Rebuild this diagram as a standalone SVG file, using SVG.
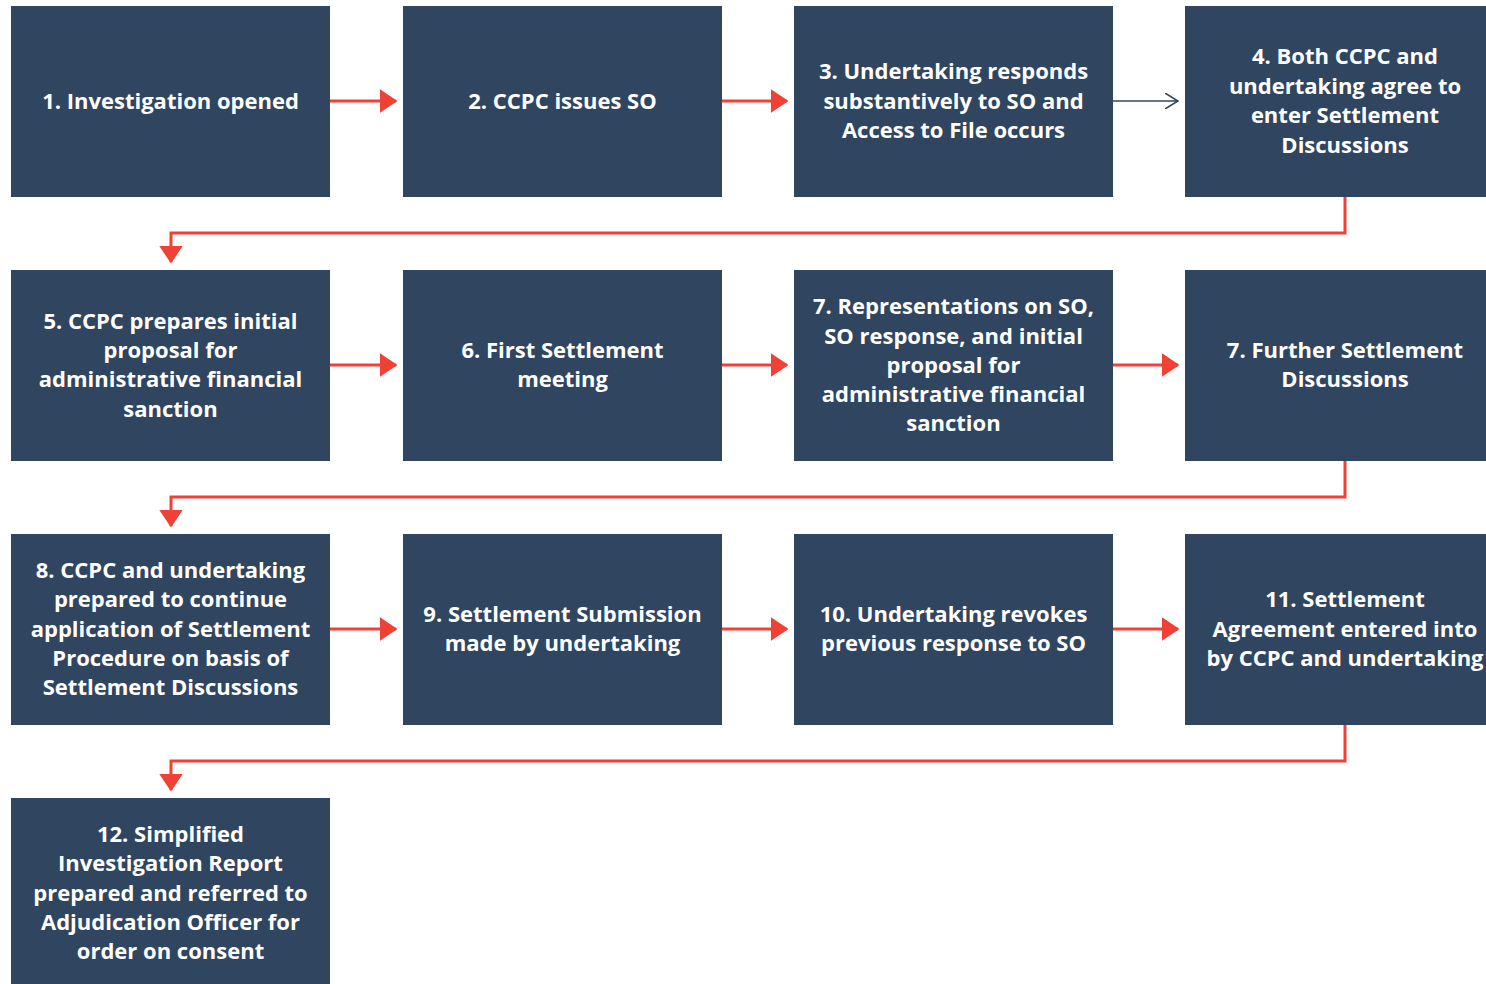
<svg xmlns="http://www.w3.org/2000/svg" width="1486" height="984" viewBox="0 0 1486 984">
<style>
.b{fill:#304560}
.t{font-family:"Open Sans","Liberation Sans",sans-serif;font-weight:700;font-size:22px;fill:#ffffff;text-anchor:middle}
.r{stroke:#ef4136;stroke-width:3;fill:none}
.n{stroke:#304560;stroke-width:1.5;fill:none}
</style>
<defs>
<marker id="ah" markerWidth="6" markerHeight="8" refX="5.5" refY="4" orient="auto" markerUnits="strokeWidth"><path d="M0,0 L6,4 L0,8 Z" fill="#ef4136"/></marker>
<marker id="oh" markerWidth="14" markerHeight="16" refX="13" refY="8" orient="auto" markerUnits="userSpaceOnUse"><path d="M0,0 L13,8 L0,16" fill="none" stroke="#304560" stroke-width="1.5"/></marker>
</defs>
<g id="connectors">
<line class="r" x1="330" y1="101" x2="396" y2="101" marker-end="url(#ah)"/>
<line class="r" x1="722" y1="101" x2="787" y2="101" marker-end="url(#ah)"/>
<line class="n" x1="1113" y1="101" x2="1178" y2="101" marker-end="url(#oh)"/>
<polyline class="r" points="1345,197 1345,233 171,233 171,262" marker-end="url(#ah)"/>
<line class="r" x1="330" y1="365" x2="396" y2="365" marker-end="url(#ah)"/>
<line class="r" x1="722" y1="365" x2="787" y2="365" marker-end="url(#ah)"/>
<line class="r" x1="1113" y1="365" x2="1178" y2="365" marker-end="url(#ah)"/>
<polyline class="r" points="1345,461 1345,497 171,497 171,526" marker-end="url(#ah)"/>
<line class="r" x1="330" y1="629" x2="396" y2="629" marker-end="url(#ah)"/>
<line class="r" x1="722" y1="629" x2="787" y2="629" marker-end="url(#ah)"/>
<line class="r" x1="1113" y1="629" x2="1178" y2="629" marker-end="url(#ah)"/>
<polyline class="r" points="1345,725 1345,761 171,761 171,790" marker-end="url(#ah)"/>
</g>
<g id="n1"><rect class="b" x="11" y="6" width="319" height="191"/><text class="t" x="170.5" y="109">1. Investigation opened</text></g>
<g id="n2"><rect class="b" x="403" y="6" width="319" height="191"/><text class="t" x="562.5" y="109">2. CCPC issues SO</text></g>
<g id="n3"><rect class="b" x="794" y="6" width="319" height="191"/><text class="t" x="953.5" y="79">3. Undertaking responds</text><text class="t" x="953.5" y="109">substantively to SO and</text><text class="t" x="953.5" y="138">Access to File occurs</text></g>
<g id="n4"><rect class="b" x="1185" y="6" width="301" height="191"/><text class="t" x="1345" y="64">4. Both CCPC and</text><text class="t" x="1345" y="94">undertaking agree to</text><text class="t" x="1345" y="123">enter Settlement</text><text class="t" x="1345" y="153">Discussions</text></g>
<g id="n5"><rect class="b" x="11" y="270" width="319" height="191"/><text class="t" x="170.5" y="329">5. CCPC prepares initial</text><text class="t" x="170.5" y="358">proposal for</text><text class="t" x="170.5" y="387">administrative financial</text><text class="t" x="170.5" y="417">sanction</text></g>
<g id="n6"><rect class="b" x="403" y="270" width="319" height="191"/><text class="t" x="562.5" y="358">6. First Settlement</text><text class="t" x="562.5" y="387">meeting</text></g>
<g id="n7a"><rect class="b" x="794" y="270" width="319" height="191"/><text class="t" x="953.5" y="314">7. Representations on SO,</text><text class="t" x="953.5" y="344">SO response, and initial</text><text class="t" x="953.5" y="373">proposal for</text><text class="t" x="953.5" y="402">administrative financial</text><text class="t" x="953.5" y="431">sanction</text></g>
<g id="n7b"><rect class="b" x="1185" y="270" width="301" height="191"/><text class="t" x="1345" y="358">7. Further Settlement</text><text class="t" x="1345" y="387">Discussions</text></g>
<g id="n8"><rect class="b" x="11" y="534" width="319" height="191"/><text class="t" x="170.5" y="578">8. CCPC and undertaking</text><text class="t" x="170.5" y="607">prepared to continue</text><text class="t" x="170.5" y="637">application of Settlement</text><text class="t" x="170.5" y="666">Procedure on basis of</text><text class="t" x="170.5" y="695">Settlement Discussions</text></g>
<g id="n9"><rect class="b" x="403" y="534" width="319" height="191"/><text class="t" x="562.5" y="622">9. Settlement Submission</text><text class="t" x="562.5" y="651">made by undertaking</text></g>
<g id="n10"><rect class="b" x="794" y="534" width="319" height="191"/><text class="t" x="953.5" y="622">10. Undertaking revokes</text><text class="t" x="953.5" y="651">previous response to SO</text></g>
<g id="n11"><rect class="b" x="1185" y="534" width="301" height="191"/><text class="t" x="1345" y="607">11. Settlement</text><text class="t" x="1345" y="637">Agreement entered into</text><text class="t" x="1345" y="666">by CCPC and undertaking</text></g>
<g id="n12"><rect class="b" x="11" y="798" width="319" height="186"/><text class="t" x="170.5" y="842">12. Simplified</text><text class="t" x="170.5" y="871">Investigation Report</text><text class="t" x="170.5" y="901">prepared and referred to</text><text class="t" x="170.5" y="930">Adjudication Officer for</text><text class="t" x="170.5" y="959">order on consent</text></g>
</svg>
